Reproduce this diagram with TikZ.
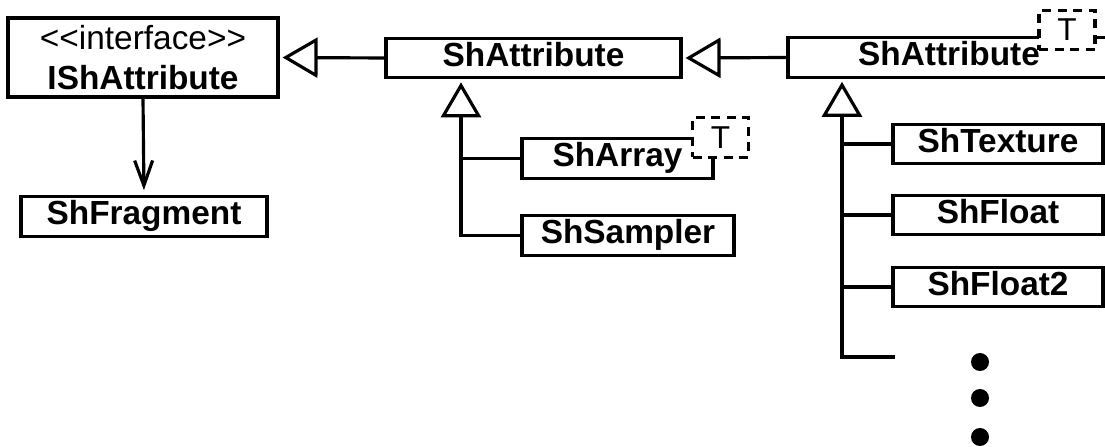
\documentclass[tikz,border=0pt]{standalone}
\usepackage{fontspec}
\setmainfont{Liberation Sans}
\usetikzlibrary{arrows.meta}

\begin{document}
\begin{tikzpicture}[x=0.2mm, y=-0.2mm,
    line width=1.8pt,
    font=\fontsize{19}{23}\selectfont,
    cls/.style={draw, fill=white, inner sep=0pt, minimum height=7.9mm,
        text height=13.6pt, text depth=4pt, font=\fontsize{19}{23}\selectfont\bfseries},
    tparam/.style={draw, dash pattern=on 1.8mm off 1.3mm, fill=white, inner sep=0pt,
        minimum width=11.2mm, minimum height=7.9mm, font=\fontsize{18}{20}\selectfont},
    gen/.style={-{Triangle[open, length=7mm, width=8mm]}, shorten >=0.6mm},
    dep/.style={-{Straight Barb[length=5mm, width=3.6mm]}, shorten >=1mm},
    dot/.style={circle, fill, inner sep=0pt, minimum size=3.6mm}
]
    \useasboundingbox (0, 0) rectangle (1105, 447);

    % --- Interface and its dependency ---
    \node[draw, inner sep=0pt, minimum width=54mm, minimum height=15.8mm, align=center]
        (iface) at (143, 57.5) {<\kern0pt<interface>\kern0pt>\\\textbf{IShAttribute}};
    \node[cls, minimum width=49.2mm] (sfrag) at (144, 216.5) {ShFragment};

    \draw[dep] (iface.south) -- (sfrag.north);

    % --- Base class ---
    \node[cls, minimum width=59mm] (sattr) at (533.5, 58) {ShAttribute};
    \node[cls, minimum width=38.2mm] (sarray) at (617.5, 158.5) {ShArray};
    \node[tparam] (sarrayT) at (720.5, 137.5) {T};
    \node[cls, minimum width=42.4mm] (ssampler) at (628, 235.5) {ShSampler};

    \coordinate (mtop) at ([xshift=-14.5mm]sattr.south);
    \draw[gen] (ssampler.west) -| (mtop);
    \draw (sarray.west) -- (sarray.west -| mtop);

    % --- Templated class ---
    \node[cls, minimum width=64.4mm] (tattr) at (949, 57.5) {ShAttribute};
    \node[tparam] (tattrT) at (1067, 30) {T};

    \node[cls, minimum width=42mm] (stex) at (998, 144) {ShTexture};
    \node[cls, minimum width=42mm] (sfloat) at (998, 215) {ShFloat};
    \node[cls, minimum width=42mm] (sfloattwo) at (998, 287) {ShFloat2};

    \coordinate (rtop) at ([xshift=-21.4mm]tattr.south);
    \coordinate (rend) at (895, 357);
    \draw[gen] (rend) -| (rtop);
    \foreach \n in {stex, sfloat, sfloattwo}
        \draw (\n.west) -- (\n.west -| rtop);

    \foreach \y [count=\i] in {362, 398, 437}
        \node[dot] (more\i) at (980, \y) {};

    % --- Inheritance between the top row ---
    \draw[gen] (sattr.west) -- (iface.east);
    \draw[gen] (tattr.west) -- (sattr.east);
\end{tikzpicture}
\end{document}
